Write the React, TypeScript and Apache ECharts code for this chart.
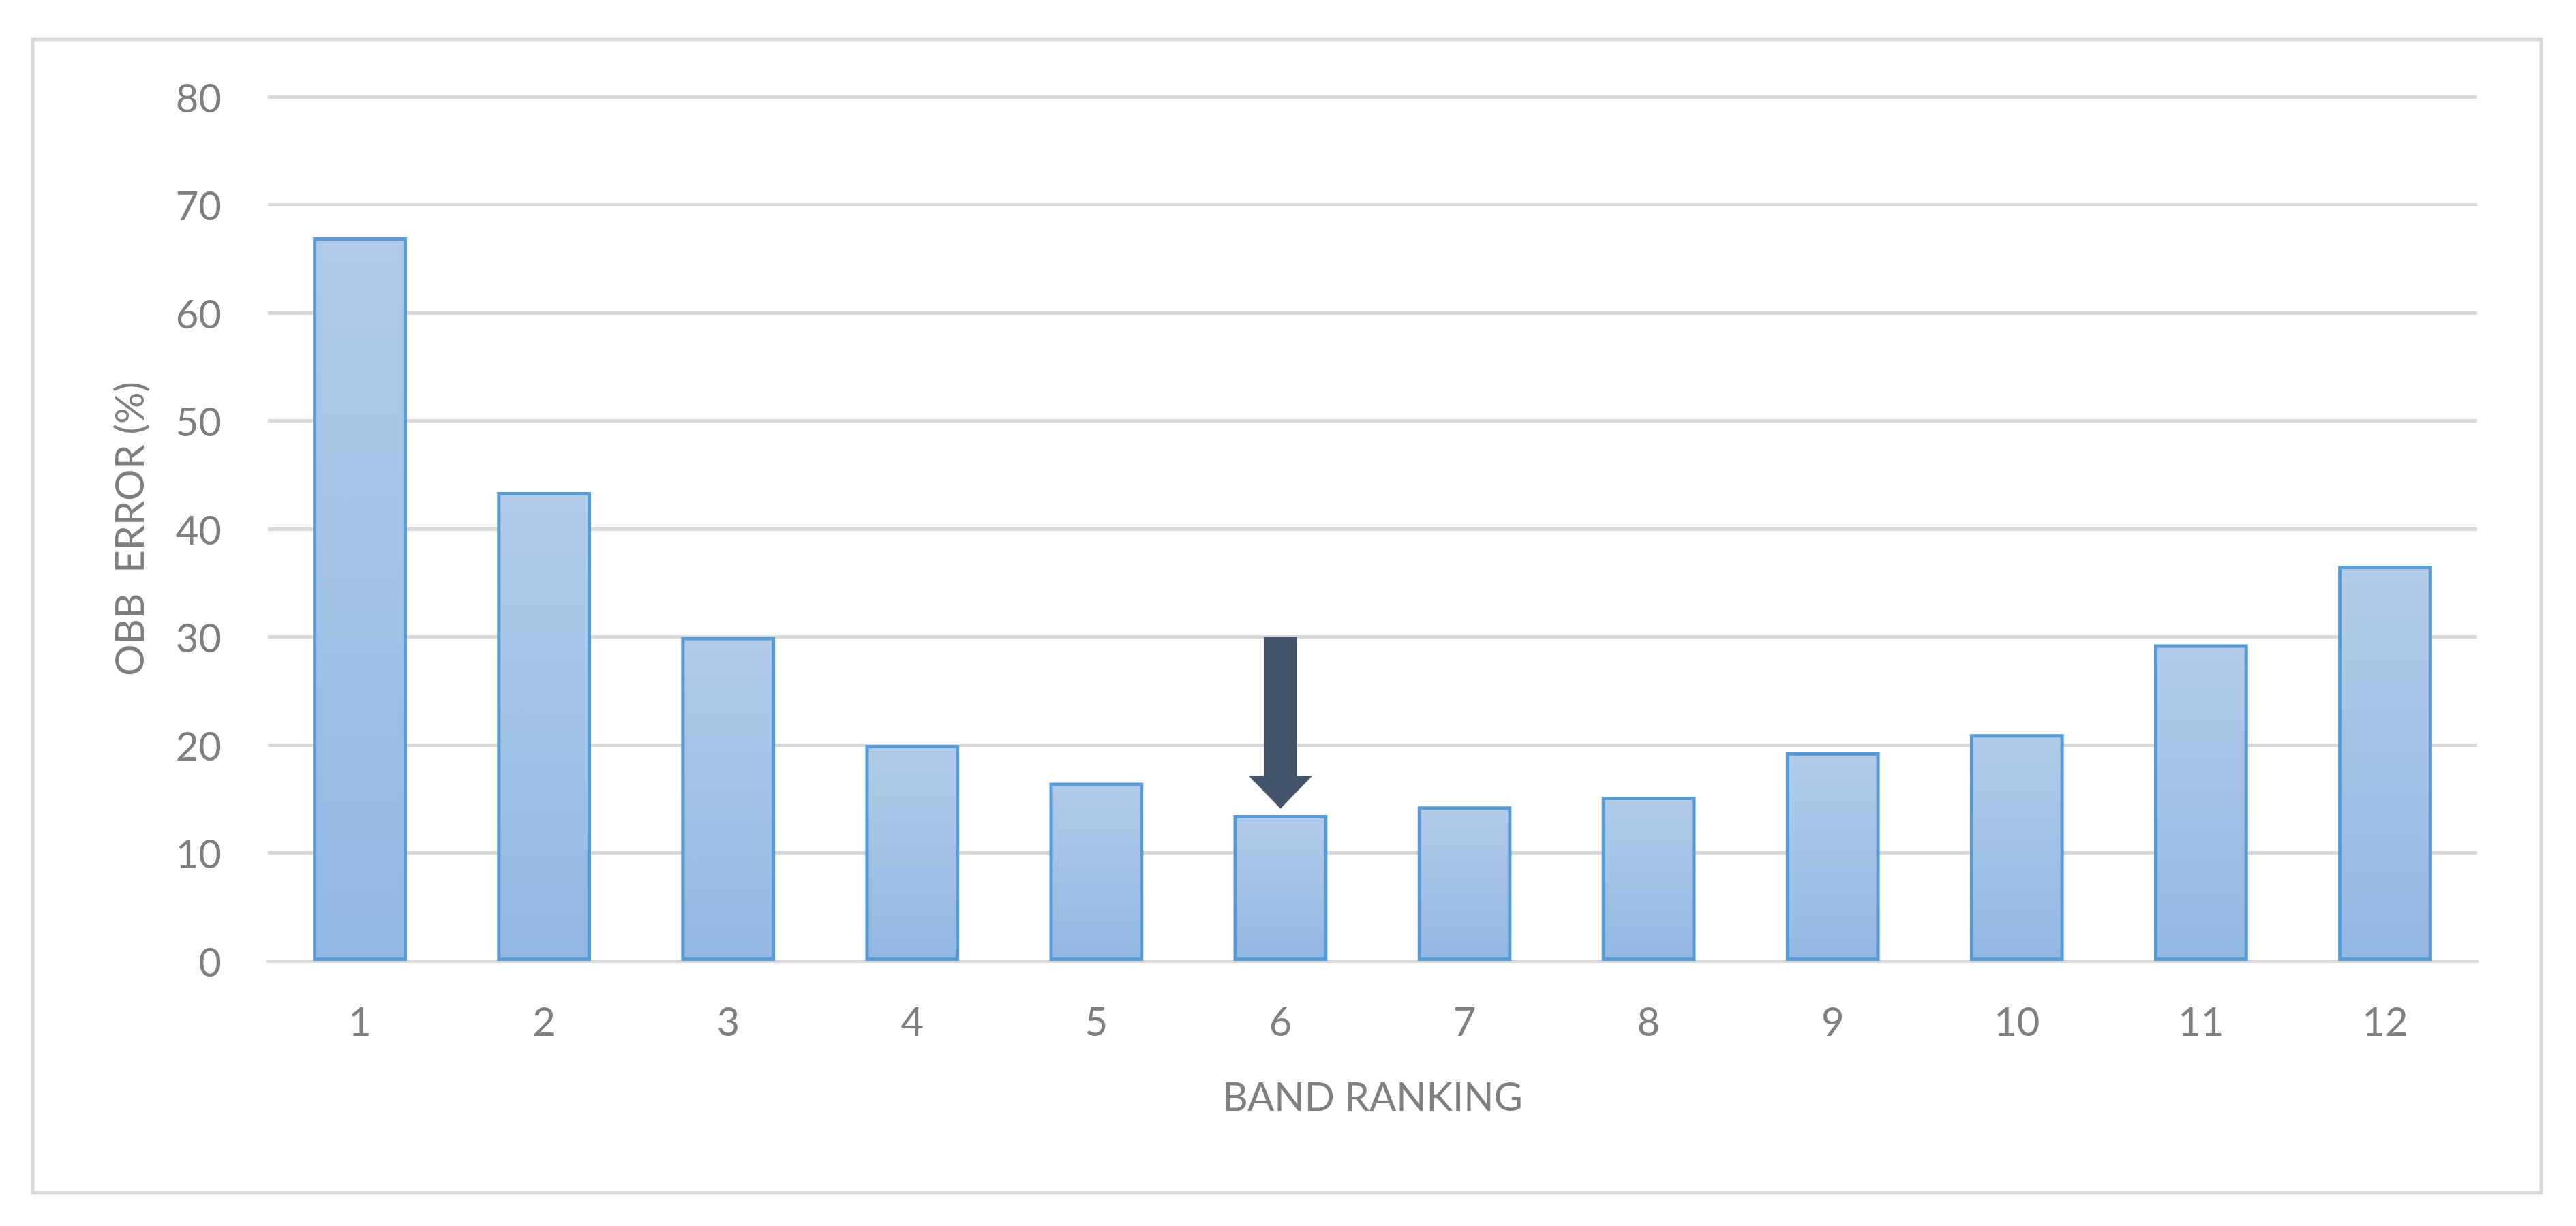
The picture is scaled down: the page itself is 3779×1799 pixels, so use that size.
import React, { useEffect, useRef } from "react";
import * as echarts from "echarts";

const categories = ["1", "2", "3", "4", "5", "6", "7", "8", "9", "10", "11", "12"];
const errorValues = [67, 43.4, 30, 20, 16.5, 13.5, 14.3, 15.2, 19.3, 21, 29.3, 36.6];
const yTicks = { min: 0, max: 80, interval: 10 };
const arrowCategoryIndex = 5;
const arrowFrom = 30;
const arrowTo = 14.1;

const FONT = "Lato, 'Open Sans', sans-serif";
const TEXT = "#7f7f7f";

export default function App() {
  const ref = useRef<HTMLDivElement>(null);
  useEffect(() => {
    document.body.style.margin = "0";
    const chart = echarts.init(ref.current!, null, { renderer: "svg" });
    chart.setOption({
      animation: false,
      backgroundColor: "#ffffff",
      textStyle: { fontFamily: FONT },
      graphic: [
        {
          type: "rect",
          shape: { x: 48, y: 58, width: 3680, height: 1692 },
          style: { fill: "none", stroke: "#d9d9d9", lineWidth: 5 },
          z: -1,
        },
      ],
      grid: { left: 393, right: 145, top: 142, bottom: 389, containLabel: false },
      xAxis: {
        type: "category",
        data: categories,
        name: "BAND RANKING",
        nameLocation: "middle",
        nameGap: 168,
        nameTextStyle: { color: TEXT, fontSize: 58, fontFamily: FONT },
        axisLine: { lineStyle: { color: "#d9d9d9", width: 5 } },
        axisTick: { show: false },
        axisLabel: { color: TEXT, fontSize: 58, margin: 58, fontFamily: FONT },
      },
      yAxis: {
        type: "value",
        min: yTicks.min,
        max: yTicks.max,
        interval: yTicks.interval,
        name: "OBB  ERROR (%)",
        nameLocation: "middle",
        nameGap: 176,
        nameTextStyle: { color: TEXT, fontSize: 58, fontFamily: FONT },
        axisLine: { show: false },
        axisTick: { show: false },
        axisLabel: { color: TEXT, fontSize: 58, margin: 68, fontFamily: FONT },
        splitLine: { lineStyle: { color: "#d9d9d9", width: 5 } },
      },
      series: [
        {
          type: "bar",
          data: errorValues,
          barWidth: "51%",
          itemStyle: {
            color: new echarts.graphic.LinearGradient(0, 0, 0, 1, [
              { offset: 0, color: "#b1cbe8" },
              { offset: 1, color: "#92b7e2" },
            ]),
            borderColor: "#5b9bd5",
            borderWidth: 5,
          },
        },
        {
          type: "custom",
          z: 10,
          data: [[arrowCategoryIndex, arrowFrom, arrowTo]],
          renderItem: (params: any, api: any) => {
            const top = api.coord([api.value(0), api.value(1)]);
            const tip = api.coord([api.value(0), api.value(2)]);
            const bw = api.size([1, 0])[0];
            const cx = top[0];
            const sh = bw * 0.089;
            const hh = bw * 0.172;
            const hl = bw * 0.178;
            const headY = tip[1] - hl;
            return {
              type: "polygon",
              shape: {
                points: [
                  [cx - sh, top[1]],
                  [cx + sh, top[1]],
                  [cx + sh, headY],
                  [cx + hh, headY],
                  [cx, tip[1]],
                  [cx - hh, headY],
                  [cx - sh, headY],
                ],
              },
              style: { fill: "#44546a", stroke: "#8a96a8", lineWidth: 1 },
            };
          },
        },
      ],
    });
    return () => chart.dispose();
  }, []);
  return (
    <div
      ref={ref}
      style={{ position: "absolute", left: 0, top: 0, width: 3779, height: 1799 }}
    />
  );
}
